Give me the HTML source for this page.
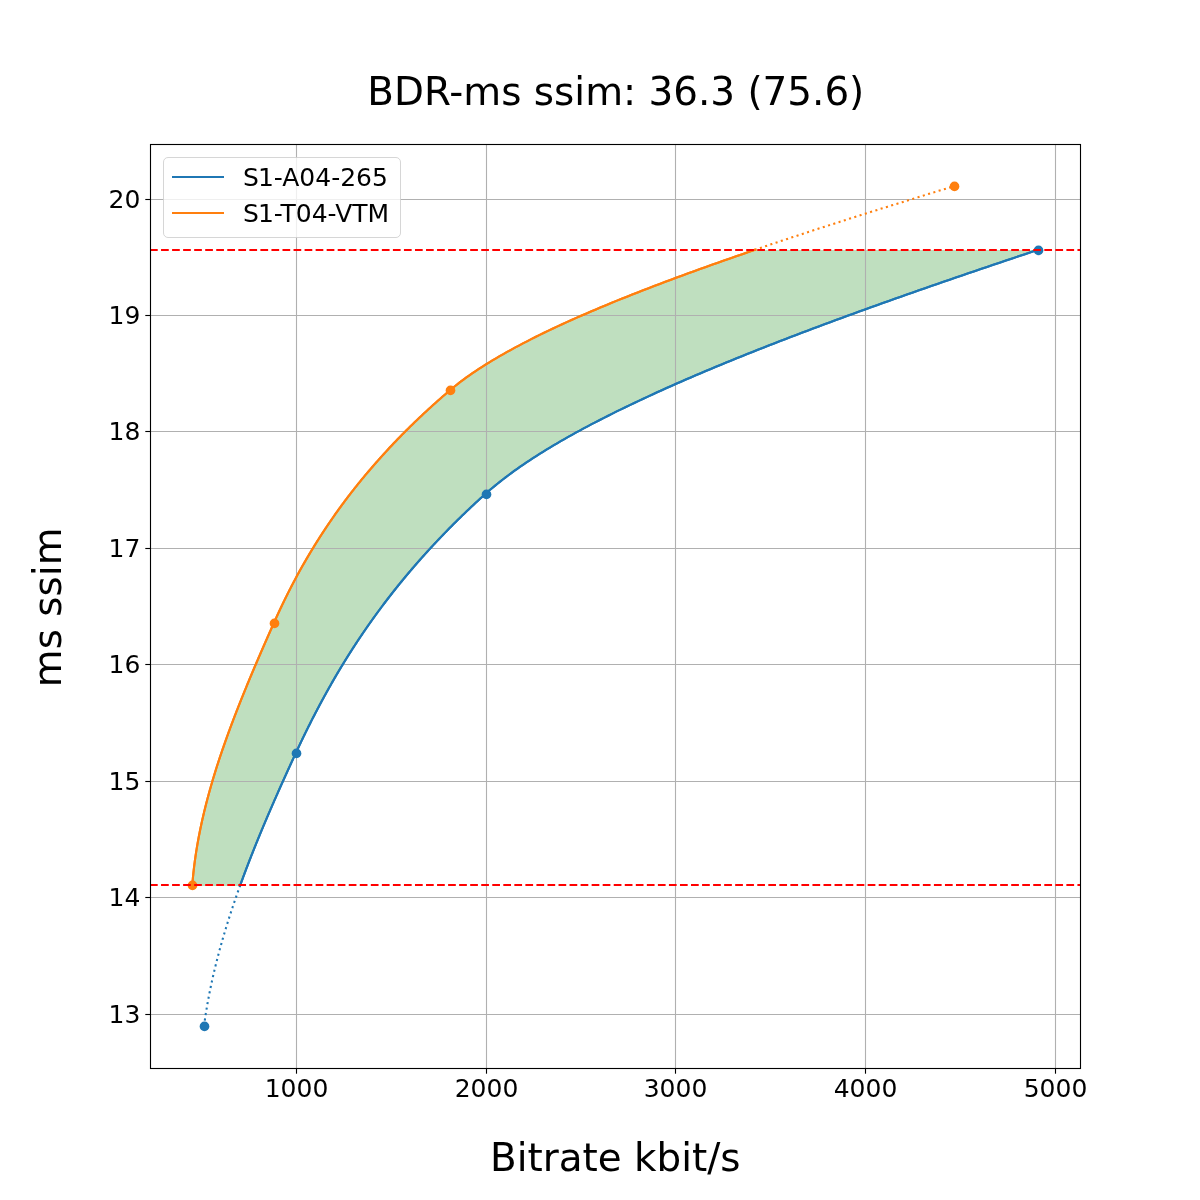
<!DOCTYPE html>
<html lang="en"><head><meta charset="utf-8"><title>BDR-ms ssim</title>
<style>html,body{margin:0;padding:0;background:#fff}svg{display:block}</style></head>
<body>
<svg width="1200" height="1200" viewBox="0 0 1200 1200">
<rect width="1200" height="1200" fill="#fff"/>
<path d="M192.27 886.00 L192.27 885.45 L192.43 883.32 L192.61 881.20 L192.80 879.07 L193.00 876.95 L193.21 874.82 L193.43 872.70 L193.66 870.57 L193.90 868.45 L194.16 866.32 L194.42 864.19 L194.70 862.07 L194.99 859.94 L195.29 857.82 L195.59 855.69 L195.91 853.57 L196.24 851.44 L196.58 849.32 L196.93 847.19 L197.29 845.06 L197.66 842.94 L198.04 840.81 L198.43 838.69 L198.83 836.56 L199.24 834.44 L199.66 832.31 L200.08 830.18 L200.52 828.06 L200.97 825.93 L201.42 823.81 L201.89 821.68 L202.36 819.56 L202.85 817.43 L203.34 815.31 L203.84 813.18 L204.35 811.05 L204.87 808.93 L205.40 806.80 L205.93 804.68 L206.48 802.55 L207.03 800.43 L207.59 798.30 L208.16 796.18 L208.74 794.05 L209.32 791.92 L209.91 789.80 L210.52 787.67 L211.12 785.55 L211.74 783.42 L212.36 781.30 L212.99 779.17 L213.63 777.05 L214.28 774.92 L214.93 772.79 L215.59 770.67 L216.26 768.54 L216.93 766.42 L217.61 764.29 L218.30 762.17 L218.99 760.04 L219.70 757.91 L220.40 755.79 L221.12 753.66 L221.84 751.54 L222.56 749.41 L223.30 747.29 L224.04 745.16 L224.78 743.04 L225.53 740.91 L226.29 738.78 L227.05 736.66 L227.82 734.53 L228.59 732.41 L229.37 730.28 L230.15 728.16 L230.94 726.03 L231.74 723.91 L232.54 721.78 L233.34 719.65 L234.15 717.53 L234.97 715.40 L235.79 713.28 L236.61 711.15 L237.44 709.03 L238.27 706.90 L239.11 704.78 L239.96 702.65 L240.80 700.52 L241.65 698.40 L242.51 696.27 L243.37 694.15 L244.23 692.02 L245.10 689.90 L245.97 687.77 L246.84 685.64 L247.72 683.52 L248.60 681.39 L249.49 679.27 L250.37 677.14 L251.26 675.02 L252.16 672.89 L253.06 670.77 L253.96 668.64 L254.86 666.51 L255.77 664.39 L256.68 662.26 L257.59 660.14 L258.50 658.01 L259.42 655.89 L260.34 653.76 L261.26 651.64 L262.18 649.51 L263.11 647.38 L264.04 645.26 L264.97 643.13 L265.90 641.01 L266.83 638.88 L267.77 636.76 L268.70 634.63 L269.64 632.51 L270.58 630.38 L271.52 628.25 L272.47 626.13 L273.41 624.00 L274.36 621.88 L275.31 619.75 L276.27 617.63 L277.24 615.50 L278.22 613.38 L279.20 611.25 L280.20 609.12 L281.20 607.00 L282.22 604.87 L283.24 602.75 L284.27 600.62 L285.31 598.50 L286.36 596.37 L287.42 594.24 L288.49 592.12 L289.57 589.99 L290.66 587.87 L291.75 585.74 L292.86 583.62 L293.98 581.49 L295.11 579.37 L296.25 577.24 L297.40 575.11 L298.56 572.99 L299.73 570.86 L300.91 568.74 L302.11 566.61 L303.31 564.49 L304.53 562.36 L305.75 560.24 L306.99 558.11 L308.24 555.98 L309.50 553.86 L310.77 551.73 L312.06 549.61 L313.35 547.48 L314.66 545.36 L315.98 543.23 L317.31 541.11 L318.66 538.98 L320.02 536.85 L321.39 534.73 L322.77 532.60 L324.16 530.48 L325.57 528.35 L326.99 526.23 L328.43 524.10 L329.88 521.97 L331.34 519.85 L332.81 517.72 L334.30 515.60 L335.80 513.47 L337.32 511.35 L338.85 509.22 L340.39 507.10 L341.95 504.97 L343.52 502.84 L345.10 500.72 L346.70 498.59 L348.32 496.47 L349.95 494.34 L351.59 492.22 L353.25 490.09 L354.93 487.97 L356.62 485.84 L358.32 483.71 L360.04 481.59 L361.77 479.46 L363.53 477.34 L365.29 475.21 L367.07 473.09 L368.87 470.96 L370.69 468.84 L372.52 466.71 L374.36 464.58 L376.22 462.46 L378.10 460.33 L380.00 458.21 L381.91 456.08 L383.84 453.96 L385.79 451.83 L387.75 449.71 L389.73 447.58 L391.72 445.45 L393.74 443.33 L395.77 441.20 L397.82 439.08 L399.89 436.95 L401.97 434.83 L404.07 432.70 L406.19 430.57 L408.33 428.45 L410.49 426.32 L412.66 424.20 L414.85 422.07 L417.07 419.95 L419.30 417.82 L421.55 415.70 L423.81 413.57 L426.10 411.44 L428.41 409.32 L430.73 407.19 L433.07 405.07 L435.44 402.94 L437.82 400.82 L440.22 398.69 L442.64 396.57 L445.09 394.44 L447.55 392.31 L450.03 390.19 L452.57 388.06 L455.18 385.94 L457.87 383.81 L460.64 381.69 L463.48 379.56 L466.40 377.44 L469.40 375.31 L472.47 373.18 L475.62 371.06 L478.83 368.93 L482.13 366.81 L485.49 364.68 L488.92 362.56 L492.42 360.43 L496.00 358.30 L499.64 356.18 L503.35 354.05 L507.13 351.93 L510.98 349.80 L514.89 347.68 L518.87 345.55 L522.91 343.43 L527.02 341.30 L531.19 339.17 L535.42 337.05 L539.71 334.92 L544.07 332.80 L548.49 330.67 L552.97 328.55 L557.51 326.42 L562.10 324.30 L566.76 322.17 L571.47 320.04 L576.24 317.92 L581.06 315.79 L585.94 313.67 L590.87 311.54 L595.86 309.42 L600.90 307.29 L606.00 305.17 L611.15 303.04 L616.34 300.91 L621.59 298.79 L626.89 296.66 L632.24 294.54 L637.63 292.41 L643.08 290.29 L648.57 288.16 L654.10 286.03 L659.69 283.91 L665.31 281.78 L670.98 279.66 L676.70 277.53 L682.46 275.41 L688.26 273.28 L694.10 271.16 L699.99 269.03 L705.91 266.90 L711.87 264.78 L717.88 262.65 L723.92 260.53 L729.99 258.40 L736.11 256.28 L742.26 254.15 L748.45 252.03 L754.67 249.90 L1037.73 249.90 L1031.34 252.03 L1024.97 254.15 L1018.61 256.28 L1012.27 258.40 L1005.94 260.53 L999.62 262.65 L993.32 264.78 L987.03 266.90 L980.76 269.03 L974.50 271.16 L968.26 273.28 L962.04 275.41 L955.83 277.53 L949.64 279.66 L943.47 281.78 L937.32 283.91 L931.19 286.03 L925.07 288.16 L918.98 290.29 L912.90 292.41 L906.85 294.54 L900.82 296.66 L894.80 298.79 L888.81 300.91 L882.84 303.04 L876.89 305.17 L870.97 307.29 L865.07 309.42 L859.19 311.54 L853.34 313.67 L847.51 315.79 L841.70 317.92 L835.92 320.04 L830.17 322.17 L824.44 324.30 L818.73 326.42 L813.06 328.55 L807.41 330.67 L801.79 332.80 L796.19 334.92 L790.63 337.05 L785.09 339.17 L779.58 341.30 L774.10 343.43 L768.66 345.55 L763.24 347.68 L757.85 349.80 L752.49 351.93 L747.17 354.05 L741.87 356.18 L736.61 358.30 L731.38 360.43 L726.19 362.56 L721.02 364.68 L715.90 366.81 L710.80 368.93 L705.74 371.06 L700.72 373.18 L695.73 375.31 L690.77 377.44 L685.85 379.56 L680.97 381.69 L676.13 383.81 L671.32 385.94 L666.55 388.06 L661.82 390.19 L657.13 392.31 L652.48 394.44 L647.86 396.57 L643.29 398.69 L638.75 400.82 L634.26 402.94 L629.81 405.07 L625.39 407.19 L621.02 409.32 L616.70 411.44 L612.41 413.57 L608.17 415.70 L603.97 417.82 L599.81 419.95 L595.70 422.07 L591.64 424.20 L587.61 426.32 L583.64 428.45 L579.71 430.57 L575.82 432.70 L571.98 434.83 L568.19 436.95 L564.45 439.08 L560.75 441.20 L557.10 443.33 L553.50 445.45 L549.95 447.58 L546.45 449.71 L543.00 451.83 L539.59 453.96 L536.24 456.08 L532.94 458.21 L529.69 460.33 L526.49 462.46 L523.35 464.58 L520.25 466.71 L517.21 468.84 L514.23 470.96 L511.29 473.09 L508.41 475.21 L505.59 477.34 L502.82 479.46 L500.10 481.59 L497.44 483.71 L494.84 485.84 L492.29 487.97 L489.80 490.09 L487.36 492.22 L484.99 494.34 L482.64 496.47 L480.30 498.59 L477.98 500.72 L475.68 502.84 L473.40 504.97 L471.13 507.10 L468.88 509.22 L466.65 511.35 L464.43 513.47 L462.23 515.60 L460.05 517.72 L457.88 519.85 L455.72 521.97 L453.58 524.10 L451.46 526.23 L449.36 528.35 L447.27 530.48 L445.19 532.60 L443.13 534.73 L441.09 536.85 L439.06 538.98 L437.04 541.11 L435.04 543.23 L433.06 545.36 L431.09 547.48 L429.14 549.61 L427.20 551.73 L425.27 553.86 L423.36 555.98 L421.46 558.11 L419.58 560.24 L417.71 562.36 L415.86 564.49 L414.02 566.61 L412.19 568.74 L410.38 570.86 L408.58 572.99 L406.79 575.11 L405.02 577.24 L403.26 579.37 L401.52 581.49 L399.78 583.62 L398.06 585.74 L396.36 587.87 L394.67 589.99 L392.98 592.12 L391.32 594.24 L389.66 596.37 L388.02 598.50 L386.39 600.62 L384.77 602.75 L383.17 604.87 L381.57 607.00 L379.99 609.12 L378.42 611.25 L376.86 613.38 L375.32 615.50 L373.78 617.63 L372.26 619.75 L370.75 621.88 L369.25 624.00 L367.76 626.13 L366.29 628.25 L364.82 630.38 L363.36 632.51 L361.92 634.63 L360.49 636.76 L359.06 638.88 L357.65 641.01 L356.25 643.13 L354.86 645.26 L353.48 647.38 L352.11 649.51 L350.75 651.64 L349.40 653.76 L348.06 655.89 L346.73 658.01 L345.41 660.14 L344.10 662.26 L342.80 664.39 L341.50 666.51 L340.22 668.64 L338.95 670.77 L337.68 672.89 L336.43 675.02 L335.18 677.14 L333.95 679.27 L332.72 681.39 L331.50 683.52 L330.29 685.64 L329.09 687.77 L327.89 689.90 L326.71 692.02 L325.53 694.15 L324.36 696.27 L323.20 698.40 L322.05 700.52 L320.90 702.65 L319.77 704.78 L318.64 706.90 L317.52 709.03 L316.40 711.15 L315.30 713.28 L314.20 715.40 L313.10 717.53 L312.02 719.65 L310.94 721.78 L309.87 723.91 L308.80 726.03 L307.75 728.16 L306.70 730.28 L305.65 732.41 L304.61 734.53 L303.58 736.66 L302.56 738.78 L301.54 740.91 L300.52 743.04 L299.52 745.16 L298.52 747.29 L297.52 749.41 L296.53 751.54 L295.55 753.66 L294.56 755.79 L293.58 757.91 L292.61 760.04 L291.63 762.17 L290.66 764.29 L289.68 766.42 L288.71 768.54 L287.74 770.67 L286.78 772.79 L285.81 774.92 L284.85 777.05 L283.89 779.17 L282.93 781.30 L281.98 783.42 L281.02 785.55 L280.07 787.67 L279.13 789.80 L278.18 791.92 L277.24 794.05 L276.30 796.18 L275.36 798.30 L274.43 800.43 L273.50 802.55 L272.57 804.68 L271.65 806.80 L270.73 808.93 L269.81 811.05 L268.89 813.18 L267.98 815.31 L267.07 817.43 L266.17 819.56 L265.27 821.68 L264.37 823.81 L263.48 825.93 L262.59 828.06 L261.70 830.18 L260.82 832.31 L259.94 834.44 L259.06 836.56 L258.19 838.69 L257.32 840.81 L256.46 842.94 L255.60 845.06 L254.75 847.19 L253.90 849.32 L253.05 851.44 L252.21 853.57 L251.37 855.69 L250.54 857.82 L249.71 859.94 L248.89 862.07 L248.07 864.19 L247.25 866.32 L246.44 868.45 L245.64 870.57 L244.84 872.70 L244.04 874.82 L243.25 876.95 L242.47 879.07 L241.69 881.20 L240.92 883.32 L240.15 885.45 L240.15 886.00Z" fill="#008000" fill-opacity="0.25"/>
<g stroke="#b0b0b0" stroke-width="1.111" fill="none">
<path d="M296.5 144.5V1068.5"/>
<path d="M486.5 144.5V1068.5"/>
<path d="M675.5 144.5V1068.5"/>
<path d="M865.5 144.5V1068.5"/>
<path d="M1055.5 144.5V1068.5"/>
<path d="M150.5 199.5H1080.5"/>
<path d="M150.5 315.5H1080.5"/>
<path d="M150.5 431.5H1080.5"/>
<path d="M150.5 548.5H1080.5"/>
<path d="M150.5 664.5H1080.5"/>
<path d="M150.5 781.5H1080.5"/>
<path d="M150.5 897.5H1080.5"/>
<path d="M150.5 1014.5H1080.5"/>
</g>
<g stroke="#000" stroke-width="1.111" fill="none">
<path d="M296.5 1068.5v5.2"/>
<path d="M486.5 1068.5v5.2"/>
<path d="M675.5 1068.5v5.2"/>
<path d="M865.5 1068.5v5.2"/>
<path d="M1055.5 1068.5v5.2"/>
<path d="M150.5 199.5h-5.2"/>
<path d="M150.5 315.5h-5.2"/>
<path d="M150.5 431.5h-5.2"/>
<path d="M150.5 548.5h-5.2"/>
<path d="M150.5 664.5h-5.2"/>
<path d="M150.5 781.5h-5.2"/>
<path d="M150.5 897.5h-5.2"/>
<path d="M150.5 1014.5h-5.2"/>
</g>
<g fill="none" stroke-width="2.083" stroke-linejoin="round">
<path d="M240.15 885.45 L240.92 883.32 L241.69 881.20 L242.47 879.07 L243.25 876.95 L244.04 874.82 L244.84 872.70 L245.64 870.57 L246.44 868.45 L247.25 866.32 L248.07 864.19 L248.89 862.07 L249.71 859.94 L250.54 857.82 L251.37 855.69 L252.21 853.57 L253.05 851.44 L253.90 849.32 L254.75 847.19 L255.60 845.06 L256.46 842.94 L257.32 840.81 L258.19 838.69 L259.06 836.56 L259.94 834.44 L260.82 832.31 L261.70 830.18 L262.59 828.06 L263.48 825.93 L264.37 823.81 L265.27 821.68 L266.17 819.56 L267.07 817.43 L267.98 815.31 L268.89 813.18 L269.81 811.05 L270.73 808.93 L271.65 806.80 L272.57 804.68 L273.50 802.55 L274.43 800.43 L275.36 798.30 L276.30 796.18 L277.24 794.05 L278.18 791.92 L279.13 789.80 L280.07 787.67 L281.02 785.55 L281.98 783.42 L282.93 781.30 L283.89 779.17 L284.85 777.05 L285.81 774.92 L286.78 772.79 L287.74 770.67 L288.71 768.54 L289.68 766.42 L290.66 764.29 L291.63 762.17 L292.61 760.04 L293.58 757.91 L294.56 755.79 L295.55 753.66 L296.53 751.54 L297.52 749.41 L298.52 747.29 L299.52 745.16 L300.52 743.04 L301.54 740.91 L302.56 738.78 L303.58 736.66 L304.61 734.53 L305.65 732.41 L306.70 730.28 L307.75 728.16 L308.80 726.03 L309.87 723.91 L310.94 721.78 L312.02 719.65 L313.10 717.53 L314.20 715.40 L315.30 713.28 L316.40 711.15 L317.52 709.03 L318.64 706.90 L319.77 704.78 L320.90 702.65 L322.05 700.52 L323.20 698.40 L324.36 696.27 L325.53 694.15 L326.71 692.02 L327.89 689.90 L329.09 687.77 L330.29 685.64 L331.50 683.52 L332.72 681.39 L333.95 679.27 L335.18 677.14 L336.43 675.02 L337.68 672.89 L338.95 670.77 L340.22 668.64 L341.50 666.51 L342.80 664.39 L344.10 662.26 L345.41 660.14 L346.73 658.01 L348.06 655.89 L349.40 653.76 L350.75 651.64 L352.11 649.51 L353.48 647.38 L354.86 645.26 L356.25 643.13 L357.65 641.01 L359.06 638.88 L360.49 636.76 L361.92 634.63 L363.36 632.51 L364.82 630.38 L366.29 628.25 L367.76 626.13 L369.25 624.00 L370.75 621.88 L372.26 619.75 L373.78 617.63 L375.32 615.50 L376.86 613.38 L378.42 611.25 L379.99 609.12 L381.57 607.00 L383.17 604.87 L384.77 602.75 L386.39 600.62 L388.02 598.50 L389.66 596.37 L391.32 594.24 L392.98 592.12 L394.67 589.99 L396.36 587.87 L398.06 585.74 L399.78 583.62 L401.52 581.49 L403.26 579.37 L405.02 577.24 L406.79 575.11 L408.58 572.99 L410.38 570.86 L412.19 568.74 L414.02 566.61 L415.86 564.49 L417.71 562.36 L419.58 560.24 L421.46 558.11 L423.36 555.98 L425.27 553.86 L427.20 551.73 L429.14 549.61 L431.09 547.48 L433.06 545.36 L435.04 543.23 L437.04 541.11 L439.06 538.98 L441.09 536.85 L443.13 534.73 L445.19 532.60 L447.27 530.48 L449.36 528.35 L451.46 526.23 L453.58 524.10 L455.72 521.97 L457.88 519.85 L460.05 517.72 L462.23 515.60 L464.43 513.47 L466.65 511.35 L468.88 509.22 L471.13 507.10 L473.40 504.97 L475.68 502.84 L477.98 500.72 L480.30 498.59 L482.64 496.47 L484.99 494.34 L487.36 492.22 L489.80 490.09 L492.29 487.97 L494.84 485.84 L497.44 483.71 L500.10 481.59 L502.82 479.46 L505.59 477.34 L508.41 475.21 L511.29 473.09 L514.23 470.96 L517.21 468.84 L520.25 466.71 L523.35 464.58 L526.49 462.46 L529.69 460.33 L532.94 458.21 L536.24 456.08 L539.59 453.96 L543.00 451.83 L546.45 449.71 L549.95 447.58 L553.50 445.45 L557.10 443.33 L560.75 441.20 L564.45 439.08 L568.19 436.95 L571.98 434.83 L575.82 432.70 L579.71 430.57 L583.64 428.45 L587.61 426.32 L591.64 424.20 L595.70 422.07 L599.81 419.95 L603.97 417.82 L608.17 415.70 L612.41 413.57 L616.70 411.44 L621.02 409.32 L625.39 407.19 L629.81 405.07 L634.26 402.94 L638.75 400.82 L643.29 398.69 L647.86 396.57 L652.48 394.44 L657.13 392.31 L661.82 390.19 L666.55 388.06 L671.32 385.94 L676.13 383.81 L680.97 381.69 L685.85 379.56 L690.77 377.44 L695.73 375.31 L700.72 373.18 L705.74 371.06 L710.80 368.93 L715.90 366.81 L721.02 364.68 L726.19 362.56 L731.38 360.43 L736.61 358.30 L741.87 356.18 L747.17 354.05 L752.49 351.93 L757.85 349.80 L763.24 347.68 L768.66 345.55 L774.10 343.43 L779.58 341.30 L785.09 339.17 L790.63 337.05 L796.19 334.92 L801.79 332.80 L807.41 330.67 L813.06 328.55 L818.73 326.42 L824.44 324.30 L830.17 322.17 L835.92 320.04 L841.70 317.92 L847.51 315.79 L853.34 313.67 L859.19 311.54 L865.07 309.42 L870.97 307.29 L876.89 305.17 L882.84 303.04 L888.81 300.91 L894.80 298.79 L900.82 296.66 L906.85 294.54 L912.90 292.41 L918.98 290.29 L925.07 288.16 L931.19 286.03 L937.32 283.91 L943.47 281.78 L949.64 279.66 L955.83 277.53 L962.04 275.41 L968.26 273.28 L974.50 271.16 L980.76 269.03 L987.03 266.90 L993.32 264.78 L999.62 262.65 L1005.94 260.53 L1012.27 258.40 L1018.61 256.28 L1024.97 254.15 L1031.34 252.03 L1037.73 249.90" stroke="#1f77b4" stroke-linecap="square"/>
<path d="M240.15 885.45 L240.92 883.32 L241.69 881.20 L242.47 879.07 L243.25 876.95 L244.04 874.82 L244.84 872.70 L245.64 870.57 L246.44 868.45 L247.25 866.32 L248.07 864.19 L248.89 862.07 L249.71 859.94 L250.54 857.82 L251.37 855.69 L252.21 853.57 L253.05 851.44 L253.90 849.32 L254.75 847.19 L255.60 845.06 L256.46 842.94 L257.32 840.81 L258.19 838.69 L259.06 836.56 L259.94 834.44 L260.82 832.31 L261.70 830.18 L262.59 828.06 L263.48 825.93 L264.37 823.81 L265.27 821.68 L266.17 819.56 L267.07 817.43 L267.98 815.31 L268.89 813.18 L269.81 811.05 L270.73 808.93 L271.65 806.80 L272.57 804.68 L273.50 802.55 L274.43 800.43 L275.36 798.30 L276.30 796.18 L277.24 794.05 L278.18 791.92 L279.13 789.80 L280.07 787.67 L281.02 785.55 L281.98 783.42 L282.93 781.30 L283.89 779.17 L284.85 777.05 L285.81 774.92 L286.78 772.79 L287.74 770.67 L288.71 768.54 L289.68 766.42 L290.66 764.29 L291.63 762.17 L292.61 760.04 L293.58 757.91 L294.56 755.79 L295.55 753.66 L296.53 751.54 L297.52 749.41 L298.52 747.29 L299.52 745.16 L300.52 743.04 L301.54 740.91 L302.56 738.78 L303.58 736.66 L304.61 734.53 L305.65 732.41 L306.70 730.28 L307.75 728.16 L308.80 726.03 L309.87 723.91 L310.94 721.78 L312.02 719.65 L313.10 717.53 L314.20 715.40 L315.30 713.28 L316.40 711.15 L317.52 709.03 L318.64 706.90 L319.77 704.78 L320.90 702.65 L322.05 700.52 L323.20 698.40 L324.36 696.27 L325.53 694.15 L326.71 692.02 L327.89 689.90 L329.09 687.77 L330.29 685.64 L331.50 683.52 L332.72 681.39 L333.95 679.27 L335.18 677.14 L336.43 675.02 L337.68 672.89 L338.95 670.77 L340.22 668.64 L341.50 666.51 L342.80 664.39 L344.10 662.26 L345.41 660.14 L346.73 658.01 L348.06 655.89 L349.40 653.76 L350.75 651.64 L352.11 649.51 L353.48 647.38 L354.86 645.26 L356.25 643.13 L357.65 641.01 L359.06 638.88 L360.49 636.76 L361.92 634.63 L363.36 632.51 L364.82 630.38 L366.29 628.25 L367.76 626.13 L369.25 624.00 L370.75 621.88 L372.26 619.75 L373.78 617.63 L375.32 615.50 L376.86 613.38 L378.42 611.25 L379.99 609.12 L381.57 607.00 L383.17 604.87 L384.77 602.75 L386.39 600.62 L388.02 598.50 L389.66 596.37 L391.32 594.24 L392.98 592.12 L394.67 589.99 L396.36 587.87 L398.06 585.74 L399.78 583.62 L401.52 581.49 L403.26 579.37 L405.02 577.24 L406.79 575.11 L408.58 572.99 L410.38 570.86 L412.19 568.74 L414.02 566.61 L415.86 564.49 L417.71 562.36 L419.58 560.24 L421.46 558.11 L423.36 555.98 L425.27 553.86 L427.20 551.73 L429.14 549.61 L431.09 547.48 L433.06 545.36 L435.04 543.23 L437.04 541.11 L439.06 538.98 L441.09 536.85 L443.13 534.73 L445.19 532.60 L447.27 530.48 L449.36 528.35 L451.46 526.23 L453.58 524.10 L455.72 521.97 L457.88 519.85 L460.05 517.72 L462.23 515.60 L464.43 513.47 L466.65 511.35 L468.88 509.22 L471.13 507.10 L473.40 504.97 L475.68 502.84 L477.98 500.72 L480.30 498.59 L482.64 496.47 L484.99 494.34 L487.36 492.22 L489.80 490.09 L492.29 487.97 L494.84 485.84 L497.44 483.71 L500.10 481.59 L502.82 479.46 L505.59 477.34 L508.41 475.21 L511.29 473.09 L514.23 470.96 L517.21 468.84 L520.25 466.71 L523.35 464.58 L526.49 462.46 L529.69 460.33 L532.94 458.21 L536.24 456.08 L539.59 453.96 L543.00 451.83 L546.45 449.71 L549.95 447.58 L553.50 445.45 L557.10 443.33 L560.75 441.20 L564.45 439.08 L568.19 436.95 L571.98 434.83 L575.82 432.70 L579.71 430.57 L583.64 428.45 L587.61 426.32 L591.64 424.20 L595.70 422.07 L599.81 419.95 L603.97 417.82 L608.17 415.70 L612.41 413.57 L616.70 411.44 L621.02 409.32 L625.39 407.19 L629.81 405.07 L634.26 402.94 L638.75 400.82 L643.29 398.69 L647.86 396.57 L652.48 394.44 L657.13 392.31 L661.82 390.19 L666.55 388.06 L671.32 385.94 L676.13 383.81 L680.97 381.69 L685.85 379.56 L690.77 377.44 L695.73 375.31 L700.72 373.18 L705.74 371.06 L710.80 368.93 L715.90 366.81 L721.02 364.68 L726.19 362.56 L731.38 360.43 L736.61 358.30 L741.87 356.18 L747.17 354.05 L752.49 351.93 L757.85 349.80 L763.24 347.68 L768.66 345.55 L774.10 343.43 L779.58 341.30 L785.09 339.17 L790.63 337.05 L796.19 334.92 L801.79 332.80 L807.41 330.67 L813.06 328.55 L818.73 326.42 L824.44 324.30 L830.17 322.17 L835.92 320.04 L841.70 317.92 L847.51 315.79 L853.34 313.67 L859.19 311.54 L865.07 309.42 L870.97 307.29 L876.89 305.17 L882.84 303.04 L888.81 300.91 L894.80 298.79 L900.82 296.66 L906.85 294.54 L912.90 292.41 L918.98 290.29 L925.07 288.16 L931.19 286.03 L937.32 283.91 L943.47 281.78 L949.64 279.66 L955.83 277.53 L962.04 275.41 L968.26 273.28 L974.50 271.16 L980.76 269.03 L987.03 266.90 L993.32 264.78 L999.62 262.65 L1005.94 260.53 L1012.27 258.40 L1018.61 256.28 L1024.97 254.15 L1031.34 252.03 L1037.73 249.90" stroke="#1f77b4" stroke-linecap="square"/>
<path d="M204.00 1026.00 L204.19 1024.58 L204.39 1023.16 L204.59 1021.74 L204.79 1020.32 L205.00 1018.90 L205.21 1017.48 L205.43 1016.06 L205.65 1014.64 L205.87 1013.22 L206.10 1011.80 L206.33 1010.38 L206.57 1008.96 L206.81 1007.54 L207.05 1006.12 L207.30 1004.70 L207.55 1003.28 L207.80 1001.87 L208.06 1000.45 L208.33 999.03 L208.59 997.61 L208.86 996.19 L209.14 994.77 L209.42 993.35 L209.70 991.93 L209.98 990.51 L210.27 989.09 L210.56 987.67 L210.86 986.25 L211.16 984.83 L211.46 983.41 L211.77 981.99 L212.08 980.57 L212.40 979.15 L212.72 977.73 L213.04 976.31 L213.36 974.89 L213.69 973.47 L214.02 972.05 L214.36 970.63 L214.70 969.21 L215.04 967.79 L215.38 966.37 L215.73 964.95 L216.09 963.53 L216.44 962.11 L216.80 960.69 L217.16 959.27 L217.53 957.85 L217.90 956.43 L218.27 955.02 L218.65 953.60 L219.03 952.18 L219.41 950.76 L219.79 949.34 L220.18 947.92 L220.57 946.50 L220.97 945.08 L221.37 943.66 L221.77 942.24 L222.17 940.82 L222.58 939.40 L222.99 937.98 L223.40 936.56 L223.82 935.14 L224.24 933.72 L224.66 932.30 L225.08 930.88 L225.51 929.46 L225.94 928.04 L226.38 926.62 L226.81 925.20 L227.25 923.78 L227.70 922.36 L228.14 920.94 L228.59 919.52 L229.04 918.10 L229.49 916.68 L229.95 915.26 L230.41 913.84 L230.87 912.42 L231.34 911.00 L231.80 909.58 L232.27 908.17 L232.75 906.75 L233.22 905.33 L233.70 903.91 L234.18 902.49 L234.66 901.07 L235.15 899.65 L235.64 898.23 L236.13 896.81 L236.62 895.39 L237.12 893.97 L237.62 892.55 L238.12 891.13 L238.62 889.71 L239.13 888.29 L239.64 886.87 L240.15 885.45" stroke="#1f77b4" stroke-dasharray="2.083 3.437"/>
<path d="M192.27 885.45 L192.43 883.32 L192.61 881.20 L192.80 879.07 L193.00 876.95 L193.21 874.82 L193.43 872.70 L193.66 870.57 L193.90 868.45 L194.16 866.32 L194.42 864.19 L194.70 862.07 L194.99 859.94 L195.29 857.82 L195.59 855.69 L195.91 853.57 L196.24 851.44 L196.58 849.32 L196.93 847.19 L197.29 845.06 L197.66 842.94 L198.04 840.81 L198.43 838.69 L198.83 836.56 L199.24 834.44 L199.66 832.31 L200.08 830.18 L200.52 828.06 L200.97 825.93 L201.42 823.81 L201.89 821.68 L202.36 819.56 L202.85 817.43 L203.34 815.31 L203.84 813.18 L204.35 811.05 L204.87 808.93 L205.40 806.80 L205.93 804.68 L206.48 802.55 L207.03 800.43 L207.59 798.30 L208.16 796.18 L208.74 794.05 L209.32 791.92 L209.91 789.80 L210.52 787.67 L211.12 785.55 L211.74 783.42 L212.36 781.30 L212.99 779.17 L213.63 777.05 L214.28 774.92 L214.93 772.79 L215.59 770.67 L216.26 768.54 L216.93 766.42 L217.61 764.29 L218.30 762.17 L218.99 760.04 L219.70 757.91 L220.40 755.79 L221.12 753.66 L221.84 751.54 L222.56 749.41 L223.30 747.29 L224.04 745.16 L224.78 743.04 L225.53 740.91 L226.29 738.78 L227.05 736.66 L227.82 734.53 L228.59 732.41 L229.37 730.28 L230.15 728.16 L230.94 726.03 L231.74 723.91 L232.54 721.78 L233.34 719.65 L234.15 717.53 L234.97 715.40 L235.79 713.28 L236.61 711.15 L237.44 709.03 L238.27 706.90 L239.11 704.78 L239.96 702.65 L240.80 700.52 L241.65 698.40 L242.51 696.27 L243.37 694.15 L244.23 692.02 L245.10 689.90 L245.97 687.77 L246.84 685.64 L247.72 683.52 L248.60 681.39 L249.49 679.27 L250.37 677.14 L251.26 675.02 L252.16 672.89 L253.06 670.77 L253.96 668.64 L254.86 666.51 L255.77 664.39 L256.68 662.26 L257.59 660.14 L258.50 658.01 L259.42 655.89 L260.34 653.76 L261.26 651.64 L262.18 649.51 L263.11 647.38 L264.04 645.26 L264.97 643.13 L265.90 641.01 L266.83 638.88 L267.77 636.76 L268.70 634.63 L269.64 632.51 L270.58 630.38 L271.52 628.25 L272.47 626.13 L273.41 624.00 L274.36 621.88 L275.31 619.75 L276.27 617.63 L277.24 615.50 L278.22 613.38 L279.20 611.25 L280.20 609.12 L281.20 607.00 L282.22 604.87 L283.24 602.75 L284.27 600.62 L285.31 598.50 L286.36 596.37 L287.42 594.24 L288.49 592.12 L289.57 589.99 L290.66 587.87 L291.75 585.74 L292.86 583.62 L293.98 581.49 L295.11 579.37 L296.25 577.24 L297.40 575.11 L298.56 572.99 L299.73 570.86 L300.91 568.74 L302.11 566.61 L303.31 564.49 L304.53 562.36 L305.75 560.24 L306.99 558.11 L308.24 555.98 L309.50 553.86 L310.77 551.73 L312.06 549.61 L313.35 547.48 L314.66 545.36 L315.98 543.23 L317.31 541.11 L318.66 538.98 L320.02 536.85 L321.39 534.73 L322.77 532.60 L324.16 530.48 L325.57 528.35 L326.99 526.23 L328.43 524.10 L329.88 521.97 L331.34 519.85 L332.81 517.72 L334.30 515.60 L335.80 513.47 L337.32 511.35 L338.85 509.22 L340.39 507.10 L341.95 504.97 L343.52 502.84 L345.10 500.72 L346.70 498.59 L348.32 496.47 L349.95 494.34 L351.59 492.22 L353.25 490.09 L354.93 487.97 L356.62 485.84 L358.32 483.71 L360.04 481.59 L361.77 479.46 L363.53 477.34 L365.29 475.21 L367.07 473.09 L368.87 470.96 L370.69 468.84 L372.52 466.71 L374.36 464.58 L376.22 462.46 L378.10 460.33 L380.00 458.21 L381.91 456.08 L383.84 453.96 L385.79 451.83 L387.75 449.71 L389.73 447.58 L391.72 445.45 L393.74 443.33 L395.77 441.20 L397.82 439.08 L399.89 436.95 L401.97 434.83 L404.07 432.70 L406.19 430.57 L408.33 428.45 L410.49 426.32 L412.66 424.20 L414.85 422.07 L417.07 419.95 L419.30 417.82 L421.55 415.70 L423.81 413.57 L426.10 411.44 L428.41 409.32 L430.73 407.19 L433.07 405.07 L435.44 402.94 L437.82 400.82 L440.22 398.69 L442.64 396.57 L445.09 394.44 L447.55 392.31 L450.03 390.19 L452.57 388.06 L455.18 385.94 L457.87 383.81 L460.64 381.69 L463.48 379.56 L466.40 377.44 L469.40 375.31 L472.47 373.18 L475.62 371.06 L478.83 368.93 L482.13 366.81 L485.49 364.68 L488.92 362.56 L492.42 360.43 L496.00 358.30 L499.64 356.18 L503.35 354.05 L507.13 351.93 L510.98 349.80 L514.89 347.68 L518.87 345.55 L522.91 343.43 L527.02 341.30 L531.19 339.17 L535.42 337.05 L539.71 334.92 L544.07 332.80 L548.49 330.67 L552.97 328.55 L557.51 326.42 L562.10 324.30 L566.76 322.17 L571.47 320.04 L576.24 317.92 L581.06 315.79 L585.94 313.67 L590.87 311.54 L595.86 309.42 L600.90 307.29 L606.00 305.17 L611.15 303.04 L616.34 300.91 L621.59 298.79 L626.89 296.66 L632.24 294.54 L637.63 292.41 L643.08 290.29 L648.57 288.16 L654.10 286.03 L659.69 283.91 L665.31 281.78 L670.98 279.66 L676.70 277.53 L682.46 275.41 L688.26 273.28 L694.10 271.16 L699.99 269.03 L705.91 266.90 L711.87 264.78 L717.88 262.65 L723.92 260.53 L729.99 258.40 L736.11 256.28 L742.26 254.15 L748.45 252.03 L754.67 249.90" stroke="#ff7f0e" stroke-linecap="square"/>
<path d="M192.27 885.45 L192.43 883.32 L192.61 881.20 L192.80 879.07 L193.00 876.95 L193.21 874.82 L193.43 872.70 L193.66 870.57 L193.90 868.45 L194.16 866.32 L194.42 864.19 L194.70 862.07 L194.99 859.94 L195.29 857.82 L195.59 855.69 L195.91 853.57 L196.24 851.44 L196.58 849.32 L196.93 847.19 L197.29 845.06 L197.66 842.94 L198.04 840.81 L198.43 838.69 L198.83 836.56 L199.24 834.44 L199.66 832.31 L200.08 830.18 L200.52 828.06 L200.97 825.93 L201.42 823.81 L201.89 821.68 L202.36 819.56 L202.85 817.43 L203.34 815.31 L203.84 813.18 L204.35 811.05 L204.87 808.93 L205.40 806.80 L205.93 804.68 L206.48 802.55 L207.03 800.43 L207.59 798.30 L208.16 796.18 L208.74 794.05 L209.32 791.92 L209.91 789.80 L210.52 787.67 L211.12 785.55 L211.74 783.42 L212.36 781.30 L212.99 779.17 L213.63 777.05 L214.28 774.92 L214.93 772.79 L215.59 770.67 L216.26 768.54 L216.93 766.42 L217.61 764.29 L218.30 762.17 L218.99 760.04 L219.70 757.91 L220.40 755.79 L221.12 753.66 L221.84 751.54 L222.56 749.41 L223.30 747.29 L224.04 745.16 L224.78 743.04 L225.53 740.91 L226.29 738.78 L227.05 736.66 L227.82 734.53 L228.59 732.41 L229.37 730.28 L230.15 728.16 L230.94 726.03 L231.74 723.91 L232.54 721.78 L233.34 719.65 L234.15 717.53 L234.97 715.40 L235.79 713.28 L236.61 711.15 L237.44 709.03 L238.27 706.90 L239.11 704.78 L239.96 702.65 L240.80 700.52 L241.65 698.40 L242.51 696.27 L243.37 694.15 L244.23 692.02 L245.10 689.90 L245.97 687.77 L246.84 685.64 L247.72 683.52 L248.60 681.39 L249.49 679.27 L250.37 677.14 L251.26 675.02 L252.16 672.89 L253.06 670.77 L253.96 668.64 L254.86 666.51 L255.77 664.39 L256.68 662.26 L257.59 660.14 L258.50 658.01 L259.42 655.89 L260.34 653.76 L261.26 651.64 L262.18 649.51 L263.11 647.38 L264.04 645.26 L264.97 643.13 L265.90 641.01 L266.83 638.88 L267.77 636.76 L268.70 634.63 L269.64 632.51 L270.58 630.38 L271.52 628.25 L272.47 626.13 L273.41 624.00 L274.36 621.88 L275.31 619.75 L276.27 617.63 L277.24 615.50 L278.22 613.38 L279.20 611.25 L280.20 609.12 L281.20 607.00 L282.22 604.87 L283.24 602.75 L284.27 600.62 L285.31 598.50 L286.36 596.37 L287.42 594.24 L288.49 592.12 L289.57 589.99 L290.66 587.87 L291.75 585.74 L292.86 583.62 L293.98 581.49 L295.11 579.37 L296.25 577.24 L297.40 575.11 L298.56 572.99 L299.73 570.86 L300.91 568.74 L302.11 566.61 L303.31 564.49 L304.53 562.36 L305.75 560.24 L306.99 558.11 L308.24 555.98 L309.50 553.86 L310.77 551.73 L312.06 549.61 L313.35 547.48 L314.66 545.36 L315.98 543.23 L317.31 541.11 L318.66 538.98 L320.02 536.85 L321.39 534.73 L322.77 532.60 L324.16 530.48 L325.57 528.35 L326.99 526.23 L328.43 524.10 L329.88 521.97 L331.34 519.85 L332.81 517.72 L334.30 515.60 L335.80 513.47 L337.32 511.35 L338.85 509.22 L340.39 507.10 L341.95 504.97 L343.52 502.84 L345.10 500.72 L346.70 498.59 L348.32 496.47 L349.95 494.34 L351.59 492.22 L353.25 490.09 L354.93 487.97 L356.62 485.84 L358.32 483.71 L360.04 481.59 L361.77 479.46 L363.53 477.34 L365.29 475.21 L367.07 473.09 L368.87 470.96 L370.69 468.84 L372.52 466.71 L374.36 464.58 L376.22 462.46 L378.10 460.33 L380.00 458.21 L381.91 456.08 L383.84 453.96 L385.79 451.83 L387.75 449.71 L389.73 447.58 L391.72 445.45 L393.74 443.33 L395.77 441.20 L397.82 439.08 L399.89 436.95 L401.97 434.83 L404.07 432.70 L406.19 430.57 L408.33 428.45 L410.49 426.32 L412.66 424.20 L414.85 422.07 L417.07 419.95 L419.30 417.82 L421.55 415.70 L423.81 413.57 L426.10 411.44 L428.41 409.32 L430.73 407.19 L433.07 405.07 L435.44 402.94 L437.82 400.82 L440.22 398.69 L442.64 396.57 L445.09 394.44 L447.55 392.31 L450.03 390.19 L452.57 388.06 L455.18 385.94 L457.87 383.81 L460.64 381.69 L463.48 379.56 L466.40 377.44 L469.40 375.31 L472.47 373.18 L475.62 371.06 L478.83 368.93 L482.13 366.81 L485.49 364.68 L488.92 362.56 L492.42 360.43 L496.00 358.30 L499.64 356.18 L503.35 354.05 L507.13 351.93 L510.98 349.80 L514.89 347.68 L518.87 345.55 L522.91 343.43 L527.02 341.30 L531.19 339.17 L535.42 337.05 L539.71 334.92 L544.07 332.80 L548.49 330.67 L552.97 328.55 L557.51 326.42 L562.10 324.30 L566.76 322.17 L571.47 320.04 L576.24 317.92 L581.06 315.79 L585.94 313.67 L590.87 311.54 L595.86 309.42 L600.90 307.29 L606.00 305.17 L611.15 303.04 L616.34 300.91 L621.59 298.79 L626.89 296.66 L632.24 294.54 L637.63 292.41 L643.08 290.29 L648.57 288.16 L654.10 286.03 L659.69 283.91 L665.31 281.78 L670.98 279.66 L676.70 277.53 L682.46 275.41 L688.26 273.28 L694.10 271.16 L699.99 269.03 L705.91 266.90 L711.87 264.78 L717.88 262.65 L723.92 260.53 L729.99 258.40 L736.11 256.28 L742.26 254.15 L748.45 252.03 L754.67 249.90" stroke="#ff7f0e" stroke-linecap="square"/>
<path d="M754.67 249.90 L756.56 249.25 L758.46 248.61 L760.37 247.96 L762.27 247.32 L764.18 246.67 L766.09 246.03 L768.00 245.38 L769.92 244.74 L771.84 244.09 L773.77 243.45 L775.69 242.80 L777.62 242.15 L779.55 241.51 L781.49 240.86 L783.43 240.22 L785.37 239.57 L787.31 238.93 L789.26 238.28 L791.21 237.64 L793.16 236.99 L795.11 236.35 L797.07 235.70 L799.03 235.05 L800.99 234.41 L802.96 233.76 L804.93 233.12 L806.90 232.47 L808.87 231.83 L810.85 231.18 L812.83 230.54 L814.81 229.89 L816.79 229.25 L818.78 228.60 L820.77 227.95 L822.76 227.31 L824.75 226.66 L826.75 226.02 L828.75 225.37 L830.75 224.73 L832.75 224.08 L834.76 223.44 L836.76 222.79 L838.78 222.15 L840.79 221.50 L842.80 220.85 L844.82 220.21 L846.84 219.56 L848.86 218.92 L850.89 218.27 L852.91 217.63 L854.94 216.98 L856.97 216.34 L859.00 215.69 L861.04 215.05 L863.08 214.40 L865.12 213.75 L867.16 213.11 L869.20 212.46 L871.25 211.82 L873.29 211.17 L875.34 210.53 L877.39 209.88 L879.45 209.24 L881.50 208.59 L883.56 207.95 L885.62 207.30 L887.68 206.65 L889.74 206.01 L891.81 205.36 L893.87 204.72 L895.94 204.07 L898.01 203.43 L900.08 202.78 L902.16 202.14 L904.23 201.49 L906.31 200.85 L908.39 200.20 L910.47 199.55 L912.55 198.91 L914.63 198.26 L916.72 197.62 L918.80 196.97 L920.89 196.33 L922.98 195.68 L925.07 195.04 L927.16 194.39 L929.26 193.75 L931.36 193.10 L933.45 192.45 L935.55 191.81 L937.65 191.16 L939.75 190.52 L941.86 189.87 L943.96 189.23 L946.06 188.58 L948.17 187.94 L950.28 187.29 L952.39 186.65 L954.50 186.00" stroke="#ff7f0e" stroke-dasharray="2.083 3.437"/>
</g>
<circle cx="204.5" cy="1026.4" r="4.86" fill="#1f77b4"/>
<circle cx="296.5" cy="753.4" r="4.86" fill="#1f77b4"/>
<circle cx="486.5" cy="494.4" r="4.86" fill="#1f77b4"/>
<circle cx="1038.5" cy="250.4" r="4.86" fill="#1f77b4"/>
<circle cx="192.5" cy="885.4" r="4.86" fill="#ff7f0e"/>
<circle cx="274.5" cy="623.4" r="4.86" fill="#ff7f0e"/>
<circle cx="450.5" cy="390.4" r="4.86" fill="#ff7f0e"/>
<circle cx="954.5" cy="186.4" r="4.86" fill="#ff7f0e"/>
<path d="M150 885.0H1080" stroke="#ff0000" stroke-width="2.083" stroke-dasharray="7.708 3.333" fill="none"/>
<path d="M150 250.0H1080" stroke="#ff0000" stroke-width="2.083" stroke-dasharray="7.708 3.333" fill="none"/>
<rect x="150.5" y="144.5" width="930" height="924" fill="none" stroke="#000" stroke-width="1.111"/>
<g font-family="'DejaVu Sans','Liberation Sans',sans-serif" font-size="25" fill="#000">
<text x="296.5" y="1097" text-anchor="middle">1000</text>
<text x="486.5" y="1097" text-anchor="middle">2000</text>
<text x="675.5" y="1097" text-anchor="middle">3000</text>
<text x="865.5" y="1097" text-anchor="middle">4000</text>
<text x="1055.5" y="1097" text-anchor="middle">5000</text>
<text x="140.3" y="208.0" text-anchor="end">20</text>
<text x="140.3" y="324.0" text-anchor="end">19</text>
<text x="140.3" y="440.0" text-anchor="end">18</text>
<text x="140.3" y="557.0" text-anchor="end">17</text>
<text x="140.3" y="673.0" text-anchor="end">16</text>
<text x="140.3" y="790.0" text-anchor="end">15</text>
<text x="140.3" y="906.0" text-anchor="end">14</text>
<text x="140.3" y="1023.0" text-anchor="end">13</text>
</g>
<rect x="163.5" y="157.5" width="237" height="80" rx="4.5" ry="4.5" fill="#fff" fill-opacity="0.8" stroke="#cccccc" stroke-opacity="0.8" stroke-width="1"/>
<path d="M172 177H224" stroke="#1f77b4" stroke-width="2.083" fill="none"/>
<path d="M172 213H224" stroke="#ff7f0e" stroke-width="2.083" fill="none"/>
<g font-family="'DejaVu Sans','Liberation Sans',sans-serif" font-size="25" fill="#000">
<text x="242.9" y="186">S<tspan dx="-0.9">1-A04-265</tspan></text>
<text x="242.9" y="222">S<tspan dx="-0.9">1-T04-VTM</tspan></text>
</g>
<g font-family="'DejaVu Sans','Liberation Sans',sans-serif" font-size="38.89" fill="#000">
<text x="615.8" y="105.3" text-anchor="middle">BDR-ms ssim: 36.3 (75.6)</text>
<text x="615.3" y="1170.5" text-anchor="middle">Bitrate kbit/s</text>
<text transform="translate(60.6 607.3) rotate(-90)" text-anchor="middle">ms ssim</text>
</g>
</svg>
</body></html>
